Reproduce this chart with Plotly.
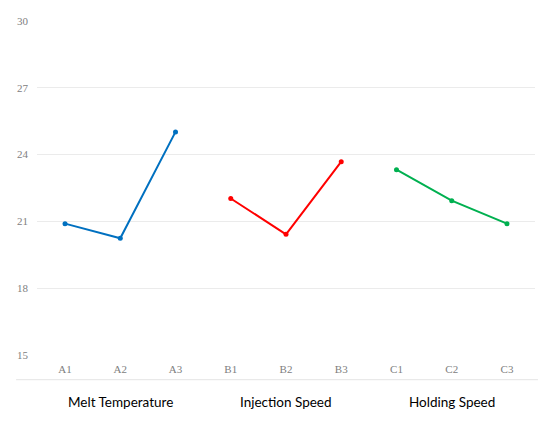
import plotly.graph_objects as go

categories = ["A1", "A2", "A3", "B1", "B2", "B3", "C1", "C2", "C3"]

melt_x = ["A1", "A2", "A3"]
melt_y = [20.9, 20.24, 25.02]

inj_x = ["B1", "B2", "B3"]
inj_y = [22.03, 20.42, 23.68]

hold_x = ["C1", "C2", "C3"]
hold_y = [23.32, 21.93, 20.9]

group_names = ["Melt Temperature", "Injection Speed", "Holding Speed"]
group_centers = ["A2", "B2", "C2"]

y_ticks = [15, 18, 21, 24, 27, 30]

fig = go.Figure()

for xs, ys, col in [(melt_x, melt_y, "#0070C0"), (inj_x, inj_y, "#FF0000"), (hold_x, hold_y, "#00B050")]:
    fig.add_trace(go.Scatter(x=xs, y=ys, mode="lines+markers",
                             line=dict(color=col, width=2),
                             marker=dict(color=col, size=5),
                             showlegend=False))

# group captions under the category labels
for name, c in zip(group_names, group_centers):
    fig.add_annotation(x=c, y=-0.14, xref="x", yref="paper", text=name,
                       showarrow=False, yanchor="middle",
                       font=dict(family="Lato", size=13.5, color="#000000"))

# thin separator line below tick labels
fig.add_shape(type="line", xref="paper", yref="paper", x0=-0.042, x1=1.006,
              y0=-0.074, y1=-0.074, line=dict(color="#e4e4e4", width=1))

# the page body adds an 8px margin, so the figure is made 8px smaller each way
fig.update_layout(
    width=542, height=416,
    margin=dict(l=29, r=15, t=13, b=69),
    plot_bgcolor="white", paper_bgcolor="white",
    xaxis=dict(type="category", categoryorder="array", categoryarray=categories,
               showgrid=False, zeroline=False, showline=False, ticks="",
               automargin=False, ticklabelstandoff=6,
               tickfont=dict(family="Liberation Serif", size=11, color="#808080")),
    yaxis=dict(range=[15, 30], tickvals=y_ticks, showgrid=True, gridcolor="#ebebeb",
               gridwidth=1, zeroline=False, showline=False, ticks="",
               automargin=False, ticklabelstandoff=8,
               tickfont=dict(family="Liberation Serif", size=11, color="#808080")),
)

fig.write_html("out.html")
